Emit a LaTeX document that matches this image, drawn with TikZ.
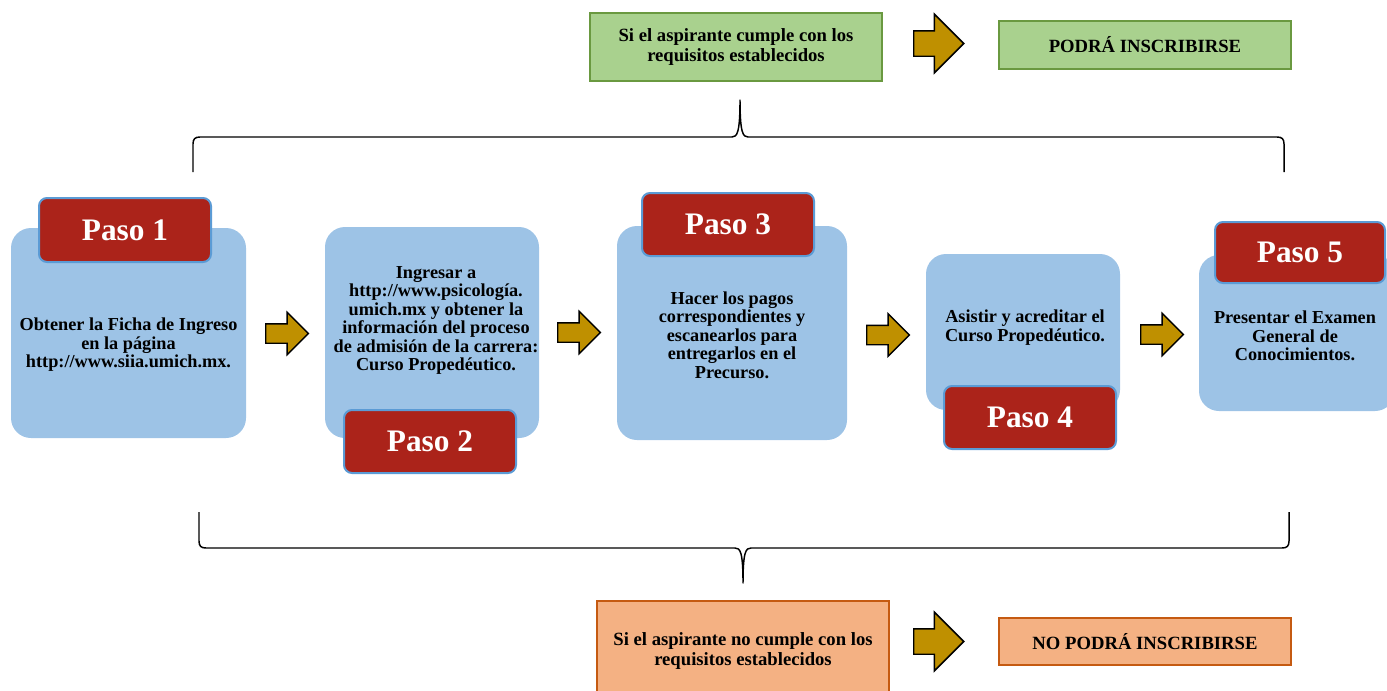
\documentclass[tikz,border=0pt]{standalone}
\usepackage{fontspec}
\setmainfont{Liberation Serif}
\usetikzlibrary{shapes.arrows,calc}
\definecolor{psblue}{RGB}{157,195,230}
\definecolor{psred}{RGB}{171,35,26}
\definecolor{psedge}{RGB}{91,155,213}
\definecolor{psgreen}{RGB}{169,209,142}
\definecolor{psgreenedge}{RGB}{106,153,64}
\definecolor{psorange}{RGB}{244,177,131}
\definecolor{psorangeedge}{RGB}{197,90,17}
\definecolor{psgold}{RGB}{191,144,0}
\tikzset{
  sz/.style 2 args={minimum width=#1*0.75pt, minimum height=#2*0.75pt},
  stepbox/.style={fill=psblue, rounded corners=15pt, inner sep=0pt},
  txt/.style={align=center, inner sep=0pt,
    font=\fontsize{13.7}{13.9}\selectfont\bfseries},
  paso/.style={fill=psred, draw=psedge, line width=1.5pt, rounded corners=6pt,
    text=white, inner sep=0pt, font=\fontsize{23.5}{24}\selectfont\bfseries},
  okbox/.style={fill=psgreen, draw=psgreenedge, line width=1.5pt, align=center,
    inner sep=0pt, font=\fontsize{14}{15}\selectfont\bfseries},
  nobox/.style={okbox, fill=psorange, draw=psorangeedge},
  blk/.style={single arrow, draw=black, fill=psgold, line width=1.1pt,
    inner xsep=0pt, inner ysep=6.75pt, single arrow head extend=8.6pt,
    minimum height=32pt, anchor=tail},
  bigblk/.style={blk, inner ysep=9pt, single arrow head extend=12.4pt,
    minimum height=37.5pt},
  brc/.style={draw=black, line width=1.1pt, line join=round}
}
\begin{document}
\begin{tikzpicture}[x=0.75pt, y=-0.75pt]
  \path[use as bounding box, clip] (0,0) rectangle (1387,690);

  \node[okbox, sz={292}{68}] (ok) at (736,47)
    {Si el aspirante cumple con los\\requisitos establecidos};
  \node[bigblk] (ta) at (913,43.5) {};
  \node[okbox, sz={292}{48}] (okr) at (1145,45) {PODRÁ INSCRIBIRSE};

  \draw[brc] (193,172) -- (193,144) .. controls (193,139) and (195,137) .. (200,137)
    -- (732,137) .. controls (737,137) and (740,133) .. (740,100)
    .. controls (740,133) and (743,137) .. (748,137) -- (1277,137)
    .. controls (1282,137) and (1284,139) .. (1284,144) -- (1284,172);

  \node[stepbox, sz={235}{210}] (s1) at (128.5,333) {};
  \node[paso, sz={172}{64}] (p1) at (125,230) {Paso 1};
  \node[txt] (t1) at ($(s1)+(0,12)$)
    {Obtener la Ficha de Ingreso\\en la página\\http://www.siia.umich.mx.};
  \node[blk] (a1) at (265,333.5) {};

  \node[stepbox, sz={214}{211}] (s2) at (432,332.5) {};
  \node[txt] (t2) at ($(s2)+(4,-12)$)
    {Ingresar a\\http://www.psicología.\\umich.mx y obtener la\\información del proceso\\de admisión de la carrera:\\Curso Propedéutico.};
  \node[paso, sz={172}{63}] (p2) at (430,441.5) {Paso 2};
  \node[blk] (a2) at (557,332.5) {};

  \node[stepbox, sz={230}{214}] (s3) at (732,333) {};
  \node[paso, sz={172}{63}] (p3) at (728,224.5) {Paso 3};
  \node[txt] (t3) at ($(s3)+(0,2)$)
    {Hacer los pagos\\correspondientes y\\escanearlos para\\entregarlos en el\\Precurso.};
  \node[blk] (a3) at (866,335) {};

  \node[stepbox, sz={194}{156}] (s4) at (1023,332) {};
  \node[txt] (t4) at ($(s4)+(2,-4.5)$)
    {Asistir y acreditar el\\Curso Propedéutico.};
  \node[paso, sz={172}{63}] (p4) at (1030,417.5) {Paso 4};
  \node[blk] (a4) at (1140,334.5) {};

  \node[stepbox, sz={196}{156}] (s5) at (1297,333) {};
  \node[paso, sz={170}{61}] (p5) at (1300,252.5) {Paso 5};
  \node[txt] (t5) at ($(s5)+(-2,3)$)
    {Presentar el Examen\\General de\\Conocimientos.};

  \draw[brc] (199,512) -- (199,541) .. controls (199,546) and (201,548) .. (206,548)
    -- (735,548) .. controls (740,548) and (743,551) .. (743,583)
    .. controls (743,551) and (746,548) .. (751,548) -- (1282,548)
    .. controls (1287,548) and (1289,546) .. (1289,541) -- (1289,512);

  \node[nobox, sz={292}{99}] (no) at (743,650.5)
    {Si el aspirante no cumple con los\\requisitos establecidos};
  \node[bigblk] (ba) at (913,641.5) {};
  \node[nobox, sz={292}{47}] (nor) at (1145,641.5) {NO PODRÁ INSCRIBIRSE};
\end{tikzpicture}
\end{document}
